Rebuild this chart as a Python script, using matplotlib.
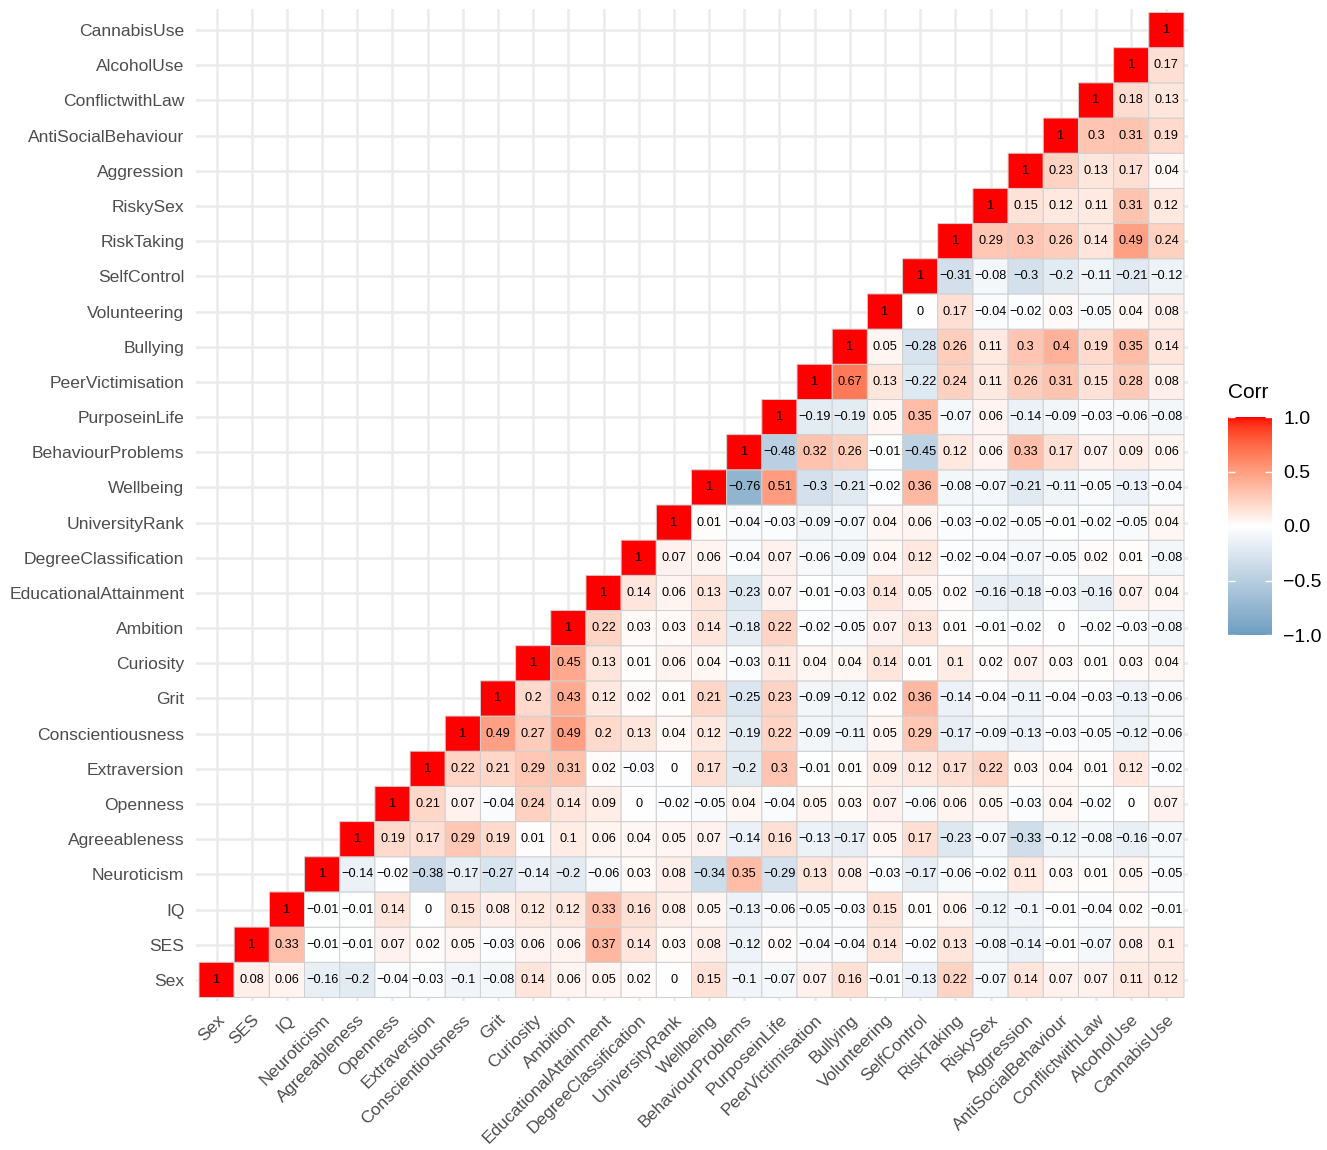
import numpy as np
import matplotlib
matplotlib.use("Agg")
import matplotlib.pyplot as plt
from matplotlib.colors import ListedColormap, Normalize, to_rgb
from matplotlib.cm import ScalarMappable

plt.rcParams['font.family'] = ['Liberation Sans', 'DejaVu Sans']

variables = ['Sex', 'SES', 'IQ', 'Neuroticism', 'Agreeableness', 'Openness',
             'Extraversion', 'Conscientiousness', 'Grit', 'Curiosity', 'Ambition',
             'EducationalAttainment', 'DegreeClassification', 'UniversityRank',
             'Wellbeing', 'BehaviourProblems', 'PurposeinLife', 'PeerVictimisation',
             'Bullying', 'Volunteering', 'SelfControl', 'RiskTaking', 'RiskySex',
             'Aggression', 'AntiSocialBehaviour', 'ConflictwithLaw', 'AlcoholUse',
             'CannabisUse']

# correlations of each variable with the ones listed after it
r_sex = [0.08, 0.06, -0.16, -0.2, -0.04, -0.03, -0.1, -0.08, 0.14, 0.06, 0.05, 0.02, 0,
         0.15, -0.1, -0.07, 0.07, 0.16, -0.01, -0.13, 0.22, -0.07, 0.14, 0.07, 0.07, 0.11, 0.12]
r_ses = [0.33, -0.01, -0.01, 0.07, 0.02, 0.05, -0.03, 0.06, 0.06, 0.37, 0.14, 0.03, 0.08,
         -0.12, 0.02, -0.04, -0.04, 0.14, -0.02, 0.13, -0.08, -0.14, -0.01, -0.07, 0.08, 0.1]
r_iq = [-0.01, -0.01, 0.14, 0, 0.15, 0.08, 0.12, 0.12, 0.33, 0.16, 0.08, 0.05, -0.13,
        -0.06, -0.05, -0.03, 0.15, 0.01, 0.06, -0.12, -0.1, -0.01, -0.04, 0.02, -0.01]
r_neu = [-0.14, -0.02, -0.38, -0.17, -0.27, -0.14, -0.2, -0.06, 0.03, 0.08, -0.34, 0.35,
         -0.29, 0.13, 0.08, -0.03, -0.17, -0.06, -0.02, 0.11, 0.03, 0.01, 0.05, -0.05]
r_agr = [0.19, 0.17, 0.29, 0.19, 0.01, 0.1, 0.06, 0.04, 0.05, 0.07, -0.14, 0.16, -0.13,
         -0.17, 0.05, 0.17, -0.23, -0.07, -0.33, -0.12, -0.08, -0.16, -0.07]
r_ope = [0.21, 0.07, -0.04, 0.24, 0.14, 0.09, 0, -0.02, -0.05, 0.04, -0.04, 0.05, 0.03,
         0.07, -0.06, 0.06, 0.05, -0.03, 0.04, -0.02, 0, 0.07]
r_ext = [0.22, 0.21, 0.29, 0.31, 0.02, -0.03, 0, 0.17, -0.2, 0.3, -0.01, 0.01, 0.09, 0.12,
         0.17, 0.22, 0.03, 0.04, 0.01, 0.12, -0.02]
r_con = [0.49, 0.27, 0.49, 0.2, 0.13, 0.04, 0.12, -0.19, 0.22, -0.09, -0.11, 0.05, 0.29,
         -0.17, -0.09, -0.13, -0.03, -0.05, -0.12, -0.06]
r_grit = [0.2, 0.43, 0.12, 0.02, 0.01, 0.21, -0.25, 0.23, -0.09, -0.12, 0.02, 0.36, -0.14,
          -0.04, -0.11, -0.04, -0.03, -0.13, -0.06]
r_cur = [0.45, 0.13, 0.01, 0.06, 0.04, -0.03, 0.11, 0.04, 0.04, 0.14, 0.01, 0.1, 0.02,
         0.07, 0.03, 0.01, 0.03, 0.04]
r_amb = [0.22, 0.03, 0.03, 0.14, -0.18, 0.22, -0.02, -0.05, 0.07, 0.13, 0.01, -0.01, -0.02,
         0, -0.02, -0.03, -0.08]
r_edu = [0.14, 0.06, 0.13, -0.23, 0.07, -0.01, -0.03, 0.14, 0.05, 0.02, -0.16, -0.18, -0.03,
         -0.16, 0.07, 0.04]
r_deg = [0.07, 0.06, -0.04, 0.07, -0.06, -0.09, 0.04, 0.12, -0.02, -0.04, -0.07, -0.05, 0.02,
         0.01, -0.08]
r_uni = [0.01, -0.04, -0.03, -0.09, -0.07, 0.04, 0.06, -0.03, -0.02, -0.05, -0.01, -0.02,
         -0.05, 0.04]
r_wel = [-0.76, 0.51, -0.3, -0.21, -0.02, 0.36, -0.08, -0.07, -0.21, -0.11, -0.05, -0.13, -0.04]
r_beh = [-0.48, 0.32, 0.26, -0.01, -0.45, 0.12, 0.06, 0.33, 0.17, 0.07, 0.09, 0.06]
r_pur = [-0.19, -0.19, 0.05, 0.35, -0.07, 0.06, -0.14, -0.09, -0.03, -0.06, -0.08]
r_pee = [0.67, 0.13, -0.22, 0.24, 0.11, 0.26, 0.31, 0.15, 0.28, 0.08]
r_bul = [0.05, -0.28, 0.26, 0.11, 0.3, 0.4, 0.19, 0.35, 0.14]
r_vol = [0, 0.17, -0.04, -0.02, 0.03, -0.05, 0.04, 0.08]
r_sel = [-0.31, -0.08, -0.3, -0.2, -0.11, -0.21, -0.12]
r_rt = [0.29, 0.3, 0.26, 0.14, 0.49, 0.24]
r_rs = [0.15, 0.12, 0.11, 0.31, 0.12]
r_agg = [0.23, 0.13, 0.17, 0.04]
r_asb = [0.3, 0.31, 0.19]
r_cwl = [0.18, 0.13]
r_alc = [0.17]

rows = [r_sex, r_ses, r_iq, r_neu, r_agr, r_ope, r_ext, r_con, r_grit, r_cur, r_amb,
        r_edu, r_deg, r_uni, r_wel, r_beh, r_pur, r_pee, r_bul, r_vol, r_sel, r_rt,
        r_rs, r_agg, r_asb, r_cwl, r_alc, []]

n = len(variables)
corr = np.full((n, n), np.nan)
for i, row in enumerate(rows):
    corr[i, i] = 1
    corr[i, i + 1:] = row


# diverging palette interpolated in CIE Lab, low -> white -> high
WHITE_PT = np.array([0.95047, 1.0, 1.08883])
M = np.array([[0.4124, 0.3576, 0.1805],
              [0.2126, 0.7152, 0.0722],
              [0.0193, 0.1192, 0.9505]])
M_INV = np.linalg.inv(M)


def to_lab(col):
    rgb = np.array(to_rgb(col))
    lin = np.where(rgb <= 0.04045, rgb / 12.92, ((rgb + 0.055) / 1.055) ** 2.4)
    xyz = M @ lin / WHITE_PT
    f = np.where(xyz > 0.008856, np.cbrt(xyz), 7.787 * xyz + 16 / 116)
    return np.array([116 * f[1] - 16, 500 * (f[0] - f[1]), 200 * (f[1] - f[2])])


def from_lab(lab):
    fy = (lab[0] + 16) / 116
    f = np.array([fy + lab[1] / 500, fy, fy - lab[2] / 200])
    xyz = np.where(f ** 3 > 0.008856, f ** 3, (f - 16 / 116) / 7.787) * WHITE_PT
    lin = M_INV @ xyz
    lin = np.clip(lin, 0, None)
    rgb = np.where(lin <= 0.0031308, 12.92 * lin, 1.055 * lin ** (1 / 2.4) - 0.055)
    return np.clip(rgb, 0, 1)


low, mid, high = to_lab('#6D9EC1'), to_lab('white'), to_lab('red')
cols = []
for v in np.linspace(-1, 1, 256):
    end = high if v >= 0 else low
    cols.append(from_lab(mid + abs(v) * (end - mid)))
cmap = ListedColormap(cols)
norm = Normalize(-1, 1)

fig = plt.figure(figsize=(13.27, 11.5), dpi=100)
ax = fig.add_axes([194 / 1327, 149 / 1150, 995 / 1327, 992 / 1150])

edges = np.arange(n + 1) - 0.5
ax.pcolor(edges, edges, np.ma.masked_invalid(corr), cmap=cmap, norm=norm,
          edgecolors='#D0D0D0', linewidth=0.7, zorder=2)

for i in range(n):
    for j in range(i, n):
        v = round(corr[i, j], 2)
        lab = f"{v:g}".replace('-', '\u2212')
        ax.text(j, i, lab, ha='center', va='center', fontsize=9.2, zorder=3)

ax.set_xlim(-0.6, n - 0.4)
ax.set_ylim(-0.6, n - 0.4)
ax.set_aspect('equal')
ax.set_axisbelow(True)
ax.grid(True, color='#EBEBEB', linewidth=1.8, zorder=0)
for s in ax.spines.values():
    s.set_visible(False)
ax.set_xticks(range(n))
ax.set_yticks(range(n))
ax.set_xticklabels(variables, rotation=45, ha='right', va='top',
                   rotation_mode='anchor', fontsize=12.6, color='#4D4D4D')
ax.set_yticklabels(variables, fontsize=12.6, color='#4D4D4D')
ax.tick_params(length=0, pad=8)
ax.tick_params(axis='x', pad=8)

# colour bar legend
cax = fig.add_axes([1228 / 1327, 515 / 1150, 44 / 1327, 218 / 1150])
cb = fig.colorbar(ScalarMappable(norm=norm, cmap=cmap), cax=cax,
                  ticks=[-1, -0.5, 0, 0.5, 1])
cb.set_ticklabels(['\u22121.0', '\u22120.5', '0.0', '0.5', '1.0'])
cb.outline.set_visible(False)
cax.tick_params(direction='in', color='white', length=5, width=1,
                left=True, right=True, labelsize=14, pad=8)
fig.text(1228 / 1327, 1 - 393 / 1150, 'Corr', fontsize=15, va='center', ha='left')

fig.savefig('out.png', dpi=100)
